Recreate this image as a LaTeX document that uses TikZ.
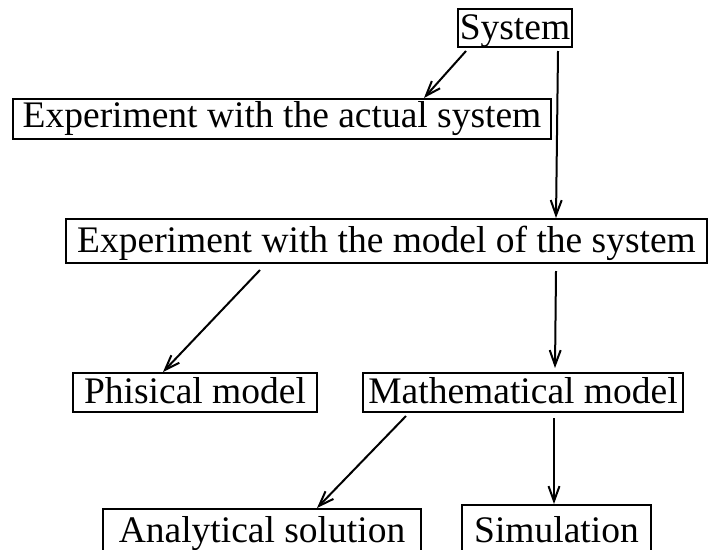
\documentclass[tikz,border=0pt]{standalone}
\usepackage{fontspec}
\setmainfont{Liberation Serif}
\usetikzlibrary{arrows.meta,calc}
\begin{document}
\begin{tikzpicture}[
  box/.style={draw,line width=2pt,rectangle,inner sep=0pt,
    font=\fontsize{37.5}{40}\selectfont,text height=22pt,text depth=0pt},
  conn/.style={line width=2pt,-{Straight Barb[length=15pt,width=11pt,line width=2pt]}}]
\begin{scope}[x=1pt,y=-1pt]
\useasboundingbox (0,0) rectangle (708,549);
\clip (0,0) rectangle (708,549);
\fill[white] (0,0) rectangle (708,549);
\node[box,minimum width=114pt,minimum height=38pt] (sys) at (515,28) {System};
\node[box,minimum width=538pt,minimum height=40pt,text height=16pt] (act) at (282,119) {Experiment with the actual system};
\node[box,minimum width=641pt,minimum height=44pt] (mod) at (386.5,241) {Experiment with the model of the system};
\node[box,minimum width=244pt,minimum height=39pt,text height=21pt] (phy) at (195,392.5) {Phisical model};
\node[box,minimum width=320pt,minimum height=39pt,text height=21pt] (math) at (523,392.5) {Mathematical model};
\node[box,minimum width=318pt,minimum height=42pt,text height=24pt] (ana) at (262,530) {Analytical solution};
\node[box,minimum width=189pt,minimum height=46pt,text height=28pt] (sim) at (556.5,528) {Simulation};
\coordinate (a1) at ($(sys.south west)+(9,3)$);
\coordinate (a2) at ($(sys.south east)+(-15,3)$);
\coordinate (b1) at ($(mod.south west)+(195,6)$);
\coordinate (b2) at ($(mod.south west)+(491,7)$);
\coordinate (c1) at ($(math.south west)+(44,3)$);
\coordinate (c2) at ($(math.south west)+(192,5)$);
\coordinate (t1) at ($(act.north east)+(-128,0)$);
\coordinate (t2) at ($(mod.north west)+(491,0)$);
\coordinate (t3) at ($(phy.north west)+(91,0)$);
\coordinate (t4) at ($(math.north west)+(193,-4)$);
\coordinate (t5) at ($(ana.north west)+(215,0)$);
\coordinate (t6) at ($(sim.north west)+(93,0)$);
\end{scope}
\draw[conn] (a1) -- (t1);
\draw[conn] (a2) -- (t2);
\draw[conn] (b1) -- (t3);
\draw[conn] (b2) -- (t4);
\draw[conn] (c1) -- (t5);
\draw[conn] (c2) -- (t6);
\end{tikzpicture}
\end{document}
